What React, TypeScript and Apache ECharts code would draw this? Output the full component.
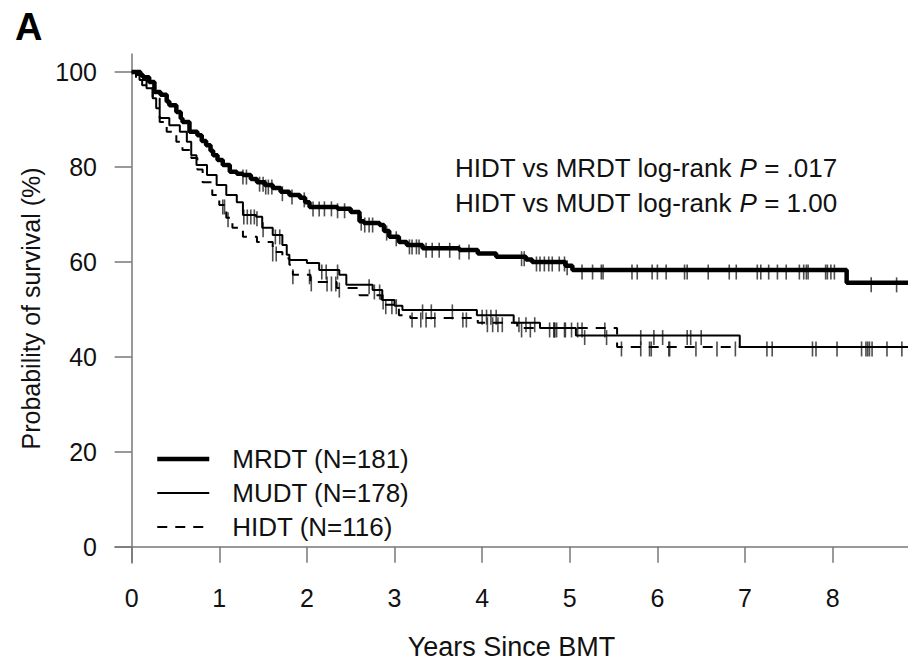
import React, { useEffect, useRef } from "react";
import * as echarts from "echarts";

const FONT = "'Liberation Sans', Arial, Helvetica, sans-serif";

const xTicks = [0, 1, 2, 3, 4, 5, 6, 7, 8];
const yTicks = [0, 20, 40, 60, 80, 100];

const seriesNames = ["MRDT (N=181)", "MUDT (N=178)", "HIDT (N=116)"];
const lineWidths = [4.5, 2, 2];

const mrdtT = [0, 0.1, 0.13, 0.2, 0.26, 0.33, 0.4, 0.43, 0.51, 0.56, 0.58, 0.66, 0.75, 0.8, 0.85, 0.9, 0.93, 0.98, 1.04, 1.12, 1.2, 1.27, 1.36, 1.43, 1.52, 1.61, 1.7, 1.8, 1.92, 1.98, 2.03, 2.35, 2.5, 2.6, 2.65, 2.83, 2.88, 2.94, 3.05, 3.14, 3.32, 3.74, 3.95, 4.16, 4.5, 4.57, 4.95, 5.03, 8.16, 8.86];
const mrdtS = [100, 99.4, 98.9, 97.9, 95.8, 95.2, 93.8, 93, 91.6, 90.2, 89.5, 87.4, 86.7, 85.5, 84.6, 83.4, 82.5, 81.5, 80.4, 79.0, 78.6, 78.3, 77.5, 76.8, 76.2, 75.6, 74.8, 74.1, 73.5, 72.6, 71.6, 71.2, 70.5, 68.6, 68.2, 67.8, 66.5, 65.3, 64.2, 63.6, 62.9, 62.5, 61.8, 61.1, 60.5, 60.0, 59.2, 58.3, 55.6, 55.6];

const mudtT = [0, 0.05, 0.09, 0.17, 0.24, 0.28, 0.32, 0.43, 0.55, 0.63, 0.68, 0.74, 0.86, 0.97, 1.08, 1.2, 1.27, 1.42, 1.49, 1.61, 1.72, 1.77, 1.8, 2.0, 2.14, 2.37, 2.45, 2.75, 2.86, 3.0, 3.09, 3.94, 4.36, 4.66, 5.07, 6.94, 8.86];
const mudtS = [100, 99.4, 98.3, 96.6, 94.5, 92.4, 90.3, 88.8, 87.4, 85.3, 82.5, 80.4, 78.3, 76.2, 74.1, 72.6, 69.9, 69.5, 67.2, 65.7, 63.6, 61.5, 60.4, 59.8, 58.3, 57.3, 55.2, 54.1, 52.0, 50.8, 49.9, 48.8, 47.2, 46.1, 44.5, 42.1, 42.1];

const hidtT = [0, 0.05, 0.12, 0.17, 0.24, 0.32, 0.4, 0.51, 0.58, 0.68, 0.75, 0.81, 0.92, 1.0, 1.08, 1.15, 1.27, 1.43, 1.61, 1.72, 1.8, 1.84, 2.04, 2.34, 2.6, 2.85, 3.05, 3.18, 3.95, 4.4, 5.54, 8.86];
const hidtS = [100, 98.7, 97.2, 96.6, 94.5, 89.5, 87.4, 85.3, 83.6, 81.9, 79.5, 76.8, 74.1, 72.0, 69.3, 67.2, 65.3, 64.2, 62.1, 60.8, 59.4, 57.3, 55.8, 54.5, 53.0, 51.0, 48.8, 48.2, 47.2, 46.1, 42.1, 42.1];

const mrdtCensor = [1.27, 1.31, 1.46, 1.5, 1.53, 1.56, 1.6, 1.72, 1.83, 1.97, 2.07, 2.14, 2.2, 2.28, 2.35, 2.43, 2.62, 2.66, 2.71, 2.75, 2.91, 3.02, 3.17, 3.2, 3.25, 3.28, 3.36, 3.43, 3.51, 3.63, 3.74, 3.85, 4.45, 4.48, 4.62, 4.66, 4.71, 4.76, 4.8, 4.88, 4.94, 4.97, 5.14, 5.26, 5.36, 5.38, 5.71, 5.77, 5.94, 6.0, 6.1, 6.31, 6.34, 6.58, 6.82, 6.9, 7.14, 7.18, 7.27, 7.37, 7.47, 7.62, 7.67, 7.7, 7.72, 7.92, 7.94, 7.98, 8.02, 8.44, 8.73];
const mudtCensor = [1.28, 1.32, 1.36, 1.4, 1.43, 1.5, 1.64, 1.69, 2.17, 2.22, 2.35, 2.71, 2.77, 2.83, 2.87, 3.32, 3.42, 3.66, 4.0, 4.05, 4.1, 4.16, 4.42, 4.5, 4.6, 4.77, 4.82, 4.85, 4.94, 5.02, 5.17, 5.42, 5.81, 5.96, 6.06, 6.34, 6.38, 6.5, 7.25, 7.77, 8.05, 8.38, 8.42, 8.62];
const hidtCensor = [1.04, 1.06, 1.1, 1.61, 1.65, 1.84, 2.03, 2.05, 2.23, 2.28, 2.33, 2.37, 2.9, 2.97, 3.02, 3.2, 3.3, 3.36, 3.46, 3.78, 3.82, 4.06, 4.12, 4.18, 4.23, 4.45, 4.55, 4.82, 4.83, 4.95, 5.09, 5.14, 5.4, 5.59, 5.81, 5.91, 5.93, 6.13, 6.14, 6.44, 6.68, 6.89, 7.31, 7.81, 8.33, 8.4, 8.45, 8.79];

const stepData = (T: number[], S: number[]) => T.map((t, i) => [t, S[i]]);
const survAt = (T: number[], S: number[], t: number) => {
  let v = S[0];
  for (let i = 0; i < T.length; i++) if (T[i] <= t) v = S[i];
  return v;
};
const censorData = (C: number[], T: number[], S: number[]) => C.map((t) => [t, survAt(T, S, t)]);

export default function App() {
  const ref = useRef<HTMLDivElement>(null);
  useEffect(() => {
    if (!ref.current) return;
    const chart = echarts.init(ref.current, null, { renderer: "svg" });
    const censorStyle = (data: number[][], name: string) => ({
      name,
      type: "scatter",
      data,
      symbol: "rect",
      symbolSize: [1.6, 15],
      symbolOffset: [0, 2],
      itemStyle: { color: "#222" },
      silent: true,
      z: 3,
    });
    const textCol = "#111";
    chart.setOption({
      animation: false,
      backgroundColor: "#fff",
      textStyle: { fontFamily: FONT },
      grid: { left: 115, right: 0, top: 54, bottom: 98, containLabel: false, outerBoundsMode: "none" },
      xAxis: {
        type: "value",
        min: -0.19,
        max: 8.86,
        name: "Years Since BMT",
        nameLocation: "middle",
        nameGap: 70,
        nameMoveOverlap: false,
        nameTextStyle: { fontSize: 27, color: textCol, fontFamily: FONT },
        axisLine: { onZero: true, lineStyle: { color: "#777", width: 1.5 } },
        axisTick: { show: true, customValues: xTicks, length: 16, lineStyle: { color: "#777", width: 1.5 } },
        axisLabel: { customValues: xTicks, fontSize: 25, color: textCol, margin: 22, fontFamily: FONT },
        splitLine: { show: false },
      },
      yAxis: {
        type: "value",
        min: -3.4,
        max: 103.8,
        name: "Probability of survival (%)",
        nameLocation: "middle",
        nameGap: 72,
        nameMoveOverlap: false,
        nameTextStyle: { fontSize: 25, color: textCol, fontFamily: FONT },
        axisLine: { show: true, onZero: true, lineStyle: { color: "#777", width: 1.5 } },
        axisTick: { show: true, customValues: yTicks, length: 17, lineStyle: { color: "#777", width: 1.5 } },
        axisLabel: { customValues: yTicks, fontSize: 25, color: textCol, margin: 18, fontFamily: FONT },
        splitLine: { show: false },
      },
      legend: {
        data: seriesNames.map((name, i) => ({
          name,
          lineStyle: { width: lineWidths[i] },
        })),
        orient: "vertical",
        left: 155,
        top: 446,
        padding: 0,
        itemWidth: 52,
        itemHeight: 24,
        itemGap: 8,
        itemStyle: { opacity: 0 },
        textStyle: { fontSize: 26, color: textCol, fontFamily: FONT, padding: [0, 0, 0, 18] },
        selectedMode: false,
      },
      graphic: [
        {
          type: "text",
          x: 15,
          y: 8,
          style: { text: "A", fontSize: 38, fontWeight: "bold", fontFamily: FONT, fill: "#000" },
        },
        {
          type: "text",
          x: 455,
          y: 168,
          style: {
            text: "HIDT vs MRDT log-rank {i|P} = .017",
            fontSize: 26,
            fontFamily: FONT,
            fill: textCol,
            verticalAlign: "middle",
            rich: { i: { fontStyle: "italic", fontSize: 26, fontFamily: FONT, fill: textCol } },
          },
        },
        {
          type: "text",
          x: 455,
          y: 203,
          style: {
            text: "HIDT vs MUDT log-rank {i|P} = 1.00",
            fontSize: 26,
            fontFamily: FONT,
            fill: textCol,
            verticalAlign: "middle",
            rich: { i: { fontStyle: "italic", fontSize: 26, fontFamily: FONT, fill: textCol } },
          },
        },
      ],
      series: [
        {
          name: seriesNames[0],
          type: "line",
          step: "end",
          data: stepData(mrdtT, mrdtS),
          symbol: "none",
          showSymbol: false,
          lineStyle: { color: "#000", width: lineWidths[0] },
          itemStyle: { color: "#000" },
          z: 4,
        },
        {
          name: seriesNames[1],
          type: "line",
          step: "end",
          data: stepData(mudtT, mudtS),
          symbol: "none",
          showSymbol: false,
          lineStyle: { color: "#000", width: lineWidths[1] },
          itemStyle: { color: "#000" },
          z: 4,
        },
        {
          name: seriesNames[2],
          type: "line",
          step: "end",
          data: stepData(hidtT, hidtS),
          symbol: "none",
          showSymbol: false,
          lineStyle: { color: "#000", width: lineWidths[2], type: [10, 8] },
          itemStyle: { color: "#000" },
          z: 4,
        },
        censorStyle(censorData(mrdtCensor, mrdtT, mrdtS), "MRDT censored"),
        censorStyle(censorData(mudtCensor, mudtT, mudtS), "MUDT censored"),
        censorStyle(censorData(hidtCensor, hidtT, hidtS), "HIDT censored"),
      ],
    });
    return () => chart.dispose();
  }, []);
  return (
    <div
      ref={ref}
      style={{ position: "fixed", left: 0, top: 0, width: 908, height: 661, background: "#fff" }}
    />
  );
}
